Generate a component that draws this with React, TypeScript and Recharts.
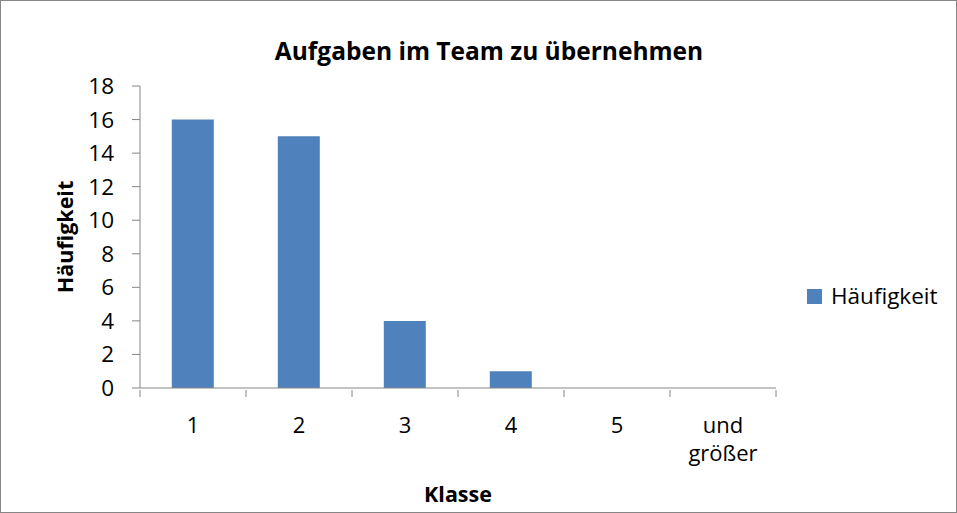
import React from "react";
import { BarChart, Bar, XAxis, YAxis, Legend, Customized } from "recharts";

const categories = ["1", "2", "3", "4", "5", "und größer"];
const frequencies = [16, 15, 4, 1, 0, 0];
const yTicks = [0, 2, 4, 6, 8, 10, 12, 14, 16, 18];
const seriesName = "Häufigkeit";
const chartTitle = "Aufgaben im Team zu übernehmen";
const xTitle = "Klasse";
const yTitle = "Häufigkeit";

const data = categories.map((c, i) => ({ klasse: c, value: frequencies[i] }));

const FONT = "'Open Sans', sans-serif";
const AXIS = "#868686";
const BLUE = "#4F81BD";
const LEGEND_W = 150;

const CategoryTick = (props: any) => {
  const { x, y, payload, index, width, visibleTicksCount } = props;
  const lines = String(payload.value).split(" ");
  const n = visibleTicksCount || categories.length;
  const band = Number(width) / n;
  const marks: number[] = [x - band / 2];
  if (index === n - 1) marks.push(x + band / 2);
  return (
    <g>
      {Number.isFinite(band) &&
        marks.map((mx, i) => (
          <line key={"m" + i} x1={mx} x2={mx} y1={y} y2={y + 7} stroke={AXIS} strokeWidth={1} />
        ))}
      {lines.map((l, i) => (
        <text
          key={i}
          x={x}
          y={y + 43 + i * 27.5}
          textAnchor="middle"
          fontFamily={FONT}
          fontSize={22}
          fill="#000"
        >
          {l}
        </text>
      ))}
    </g>
  );
};

const YTick = (props: any) => {
  const { x, y, payload } = props;
  return (
    <text x={x} y={y + 8} textAnchor="end" fontFamily={FONT} fontSize={22.5} fill="#000">
      {payload.value}
    </text>
  );
};

const Titles = () => (
  <g>
    <text x={489} y={60} textAnchor="middle" fontFamily={FONT} fontSize={24.5} fontWeight="bold" fill="#000">
      {chartTitle}
    </text>
    <text
      x={0}
      y={0}
      transform="translate(73,237) rotate(-90)"
      textAnchor="middle"
      fontFamily={FONT}
      fontSize={21.5}
      fontWeight="bold"
      fill="#000"
    >
      {yTitle}
    </text>
    <text x={458} y={502} textAnchor="middle" fontFamily={FONT} fontSize={21.5} fontWeight="bold" fill="#000">
      {xTitle}
    </text>
  </g>
);

const LegendContent = () => (
  <div style={{ display: "flex", alignItems: "center", fontFamily: FONT, fontSize: 22.5, color: "#000", lineHeight: "28px" }}>
    <span style={{ display: "inline-block", width: 15, height: 15, background: BLUE, marginRight: 9 }} />
    <span>{seriesName}</span>
  </div>
);

export default function App() {
  return (
    <div style={{ position: "absolute", left: 0, top: 0, width: 957, height: 513, background: "#fff" }}>
      <BarChart
        width={957}
        height={513}
        data={data}
        margin={{ top: 86, right: 181 - LEGEND_W, bottom: 55, left: 80 }}
        barCategoryGap="30%"
      >
        <XAxis
          dataKey="klasse"
          height={70}
          stroke={AXIS}
          axisLine={{ stroke: AXIS }}
          tickLine={false}
          tickSize={0}
          tick={<CategoryTick />}
          interval={0}
        />
        <YAxis
          domain={[0, 18]}
          ticks={yTicks}
          width={60}
          stroke={AXIS}
          axisLine={{ stroke: AXIS }}
          tickLine={{ stroke: AXIS }}
          tickSize={8}
          tickMargin={18}
          tick={<YTick />}
          interval={0}
        />
        <Bar dataKey="value" name={seriesName} fill={BLUE} isAnimationActive={false} />
        <Legend
          layout="horizontal"
          verticalAlign="middle"
          align="right"
          content={<LegendContent />}
          wrapperStyle={{ left: 807, top: 282, width: LEGEND_W, height: 28 }}
        />
        <Customized component={Titles} />
      </BarChart>
      <div
        style={{
          position: "absolute",
          left: 0,
          top: 0,
          width: 957,
          height: 513,
          boxSizing: "border-box",
          border: "1px solid #868686",
          pointerEvents: "none",
        }}
      />
    </div>
  );
}
